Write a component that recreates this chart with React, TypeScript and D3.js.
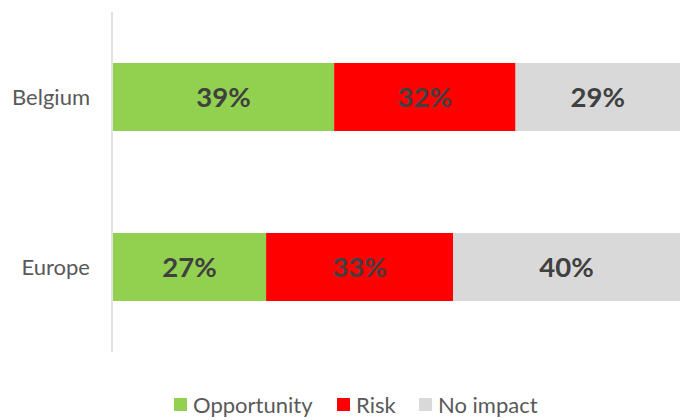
import React from "react";
import * as d3 from "d3";

const categories = ["Belgium", "Europe"];
const seriesNames = ["Opportunity", "Risk", "No impact"];
const opportunity = [39, 27];
const risk = [32, 33];
const noImpact = [29, 40];
const colors = ["#92d050", "#ff0000", "#d9d9d9"];

export default function App() {
  const W = 684, H = 420;
  const x = d3.scaleLinear().domain([0, 100]).range([113, 680]);
  const y = d3.scaleBand().domain(categories).range([12, 352]).paddingInner(0.6).paddingOuter(0.3);
  const rows = categories.map((c, i) => ({ cat: c, Opportunity: opportunity[i], Risk: risk[i], "No impact": noImpact[i] }));
  const stacked = d3.stack<any>().keys(seriesNames)(rows);
  const font = "Lato, Calibri, sans-serif";
  const legendX = [174, 337, 419];
  return (
    <div style={{ position: "absolute", left: 0, top: 0 }}>
      <svg width={W} height={H} style={{ display: "block" }}>
        <rect width={W} height={H} fill="#fff" />
        {stacked.map((s, si) =>
          s.map((d, i) => (
            <g key={`${si}-${i}`}>
              <rect x={x(d[0])} y={y(categories[i])} width={x(d[1]) - x(d[0])} height={y.bandwidth()} fill={colors[si]} />
              <text
                x={(x(d[0]) + x(d[1])) / 2}
                y={y(categories[i])! + y.bandwidth() / 2}
                dy="0.36em"
                textAnchor="middle"
                fontFamily={font}
                fontWeight="bold"
                fontSize={27.5}
                fill="#404040"
              >
                {d[1] - d[0]}%
              </text>
            </g>
          ))
        )}
        <line x1={112} x2={112} y1={12} y2={352} stroke="#d9d9d9" strokeWidth={1.5} />
        {categories.map((c) => (
          <text key={c} x={90} y={y(c)! + y.bandwidth() / 2} dy="0.36em" textAnchor="end" fontFamily={font} fontSize={22} fill="#595959">
            {c}
          </text>
        ))}
        {seriesNames.map((n, i) => (
          <g key={n}>
            <rect x={legendX[i]} y={398} width={13} height={13} fill={colors[i]} />
            <text x={legendX[i] + 19} y={413} fontFamily={font} fontSize={22} fill="#595959">
              {n}
            </text>
          </g>
        ))}
      </svg>
    </div>
  );
}
